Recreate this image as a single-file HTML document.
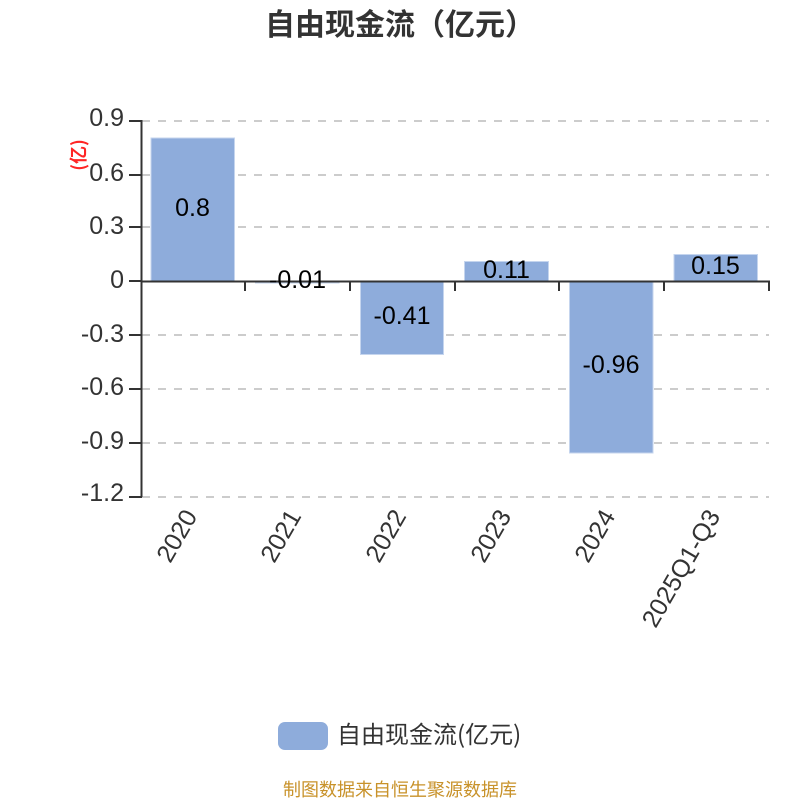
<!DOCTYPE html>
<html><head><meta charset="utf-8"><style>
html,body{margin:0;padding:0;background:#fff}
svg{display:block}
text{font-family:"Noto Sans CJK SC","Noto Sans CJK JP",sans-serif}
.n text,text.n{font-family:"Liberation Sans",sans-serif}
</style></head><body>
<svg width="800" height="800" viewBox="0 0 800 800" xmlns="http://www.w3.org/2000/svg">
<text x="400" y="35" text-anchor="middle" font-size="30" font-weight="bold" fill="#333">自由现金流（亿元）</text>
<g stroke="#ccc" stroke-width="2" stroke-dasharray="8 8" fill="none">
<path d="M142 121H769M142 175H769M142 227H769M142 335H769M142 389H769M142 443H769M142 497H769"/>
</g>
<g fill="#8eacdb" stroke="#c5d5ee" stroke-width="1">
<rect x="151" y="138" width="83.5" height="143.500"/>
<rect x="255.500" y="281" width="83.500" height="2"/>
<rect x="360.500" y="281" width="83" height="73.500"/>
<rect x="464.500" y="261.500" width="84" height="20"/>
<rect x="569.500" y="281" width="83.500" height="172"/>
<rect x="674" y="254.500" width="83.500" height="27"/>
</g>
<g stroke="#333" stroke-width="2" fill="none">
<path d="M141.500 120V497"/>
<path d="M129 121H142M129 175H142M129 227H142M129 281H142M129 335H142M129 389H142M129 443H142M129 497H142"/>
<path d="M141 281.500H770"/>
<path d="M245 281V291M350 281V291M455 281V291M559 281V291M664 281V291M769 281V291"/>
</g>
<g class="n" font-size="25" fill="#333" text-anchor="end">
<text x="124" y="126">0.9</text>
<text x="124" y="181">0.6</text>
<text x="124" y="234">0.3</text>
<text x="124" y="288">0</text>
<text x="124" y="342">-0.3</text>
<text x="124" y="395">-0.6</text>
<text x="124" y="449">-0.9</text>
<text x="124" y="501">-1.2</text>
</g>
<text transform="translate(85,155) rotate(-90)" text-anchor="middle" font-size="18" fill="#f00" font-weight="bold" opacity="0.85">(亿)</text>
<g class="n" font-size="25" fill="#000" text-anchor="middle">
<text x="192.500" y="216">0.8</text>
<text x="297.500" y="288">-0.01</text>
<text x="402" y="324">-0.41</text>
<text x="506.500" y="278">0.11</text>
<text x="611" y="373">-0.96</text>
<text x="715.500" y="274">0.15</text>
</g>
<g class="n" font-size="25" fill="#333" text-anchor="end">
<text transform="translate(198,516) rotate(-60)">2020</text>
<text transform="translate(302,516) rotate(-60)">2021</text>
<text transform="translate(407,516) rotate(-60)">2022</text>
<text transform="translate(512,516) rotate(-60)">2023</text>
<text transform="translate(616,516) rotate(-60)">2024</text>
<text transform="translate(721,516) rotate(-60)">2025Q1-Q3</text>
</g>
<rect x="278" y="722" width="50" height="28" rx="7" ry="7" fill="#8eacdb"/>
<text x="337" y="743" font-size="24" fill="#333">自由现金流(亿元)</text>
<text x="400" y="796" text-anchor="middle" font-size="18" fill="#c8922a">制图数据来自恒生聚源数据库</text>
</svg>
</body></html>
